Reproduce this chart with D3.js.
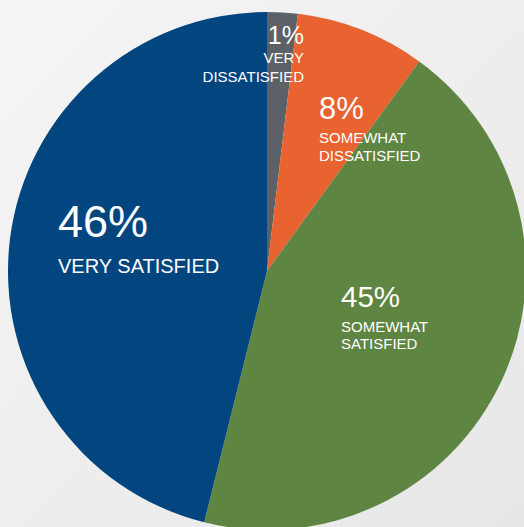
<!DOCTYPE html>
<html>
<head>
<meta charset="utf-8">
<script src="https://cdn.jsdelivr.net/npm/d3@7"></script>
<style>
  html, body { margin: 0; padding: 0; overflow: hidden; }
  svg { display: block; }
</style>
</head>
<body>
<div id="chart"></div>
<script>
// slices, clockwise from 12 o'clock
var categories = ["VERY DISSATISFIED", "SOMEWHAT DISSATISFIED", "SOMEWHAT SATISFIED", "VERY SATISFIED"];
var values = [1.9, 8.1, 43.9, 46.1];
var pctLabels = ["1%", "8%", "45%", "46%"];
var nameLines = [["VERY", "DISSATISFIED"], ["SOMEWHAT", "DISSATISFIED"], ["SOMEWHAT", "SATISFIED"], ["VERY SATISFIED"]];
var colors = ["#5c6168", "#e8632f", "#5e8541", "#03457f"];

var width = 524, height = 527;
var cx = 267, cy = 271, radius = 259;

var svg = d3.select("#chart")
  .append("svg")
    .attr("width", width)
    .attr("height", height);

// soft grey background
var grad = svg.append("defs").append("linearGradient")
    .attr("id", "bg")
    .attr("x1", "0").attr("y1", "0")
    .attr("x2", "1").attr("y2", "1");
grad.append("stop").attr("offset", "0").attr("stop-color", "#f5f5f5");
grad.append("stop").attr("offset", "1").attr("stop-color", "#e7e7e7");

svg.append("rect")
    .attr("width", width)
    .attr("height", height)
    .attr("fill", "url(#bg)");

var pie = d3.pie().sort(null).value(d => d);
var arc = d3.arc().innerRadius(0).outerRadius(radius);

var g = svg.append("g")
    .attr("transform", "translate(" + cx + "," + cy + ")");

g.selectAll("path")
  .data(pie(values))
  .enter()
  .append("path")
    .attr("d", arc)
    .attr("fill", (d, i) => colors[i]);

// label placement (hand-placed like the original)
var labelPos = [
  {x: 304, y: 44, anchor: "end", big: 25, small: 15, gap: [19, 19]},
  {x: 319, y: 119, anchor: "start", big: 31, small: 15, gap: [24, 18]},
  {x: 341, y: 307, anchor: "start", big: 29.5, small: 15, gap: [25, 17]},
  {x: 58, y: 237, anchor: "start", big: 45, small: 20, gap: [36]}
];

var labels = svg.append("g")
    .attr("font-family", "'Liberation Sans', Arial, Helvetica, sans-serif")
    .attr("fill", "#ffffff");

pctLabels.forEach(function(p, i) {
  var pos = labelPos[i];
  labels.append("text")
      .attr("x", pos.x)
      .attr("y", pos.y)
      .attr("text-anchor", pos.anchor)
      .attr("font-size", pos.big)
      .text(p);
  var yy = pos.y;
  nameLines[i].forEach(function(line, j) {
    yy += pos.gap[j];
    labels.append("text")
        .attr("x", pos.x)
        .attr("y", yy)
        .attr("text-anchor", pos.anchor)
        .attr("font-size", pos.small)
        .text(line);
  });
});
</script>
</body>
</html>
